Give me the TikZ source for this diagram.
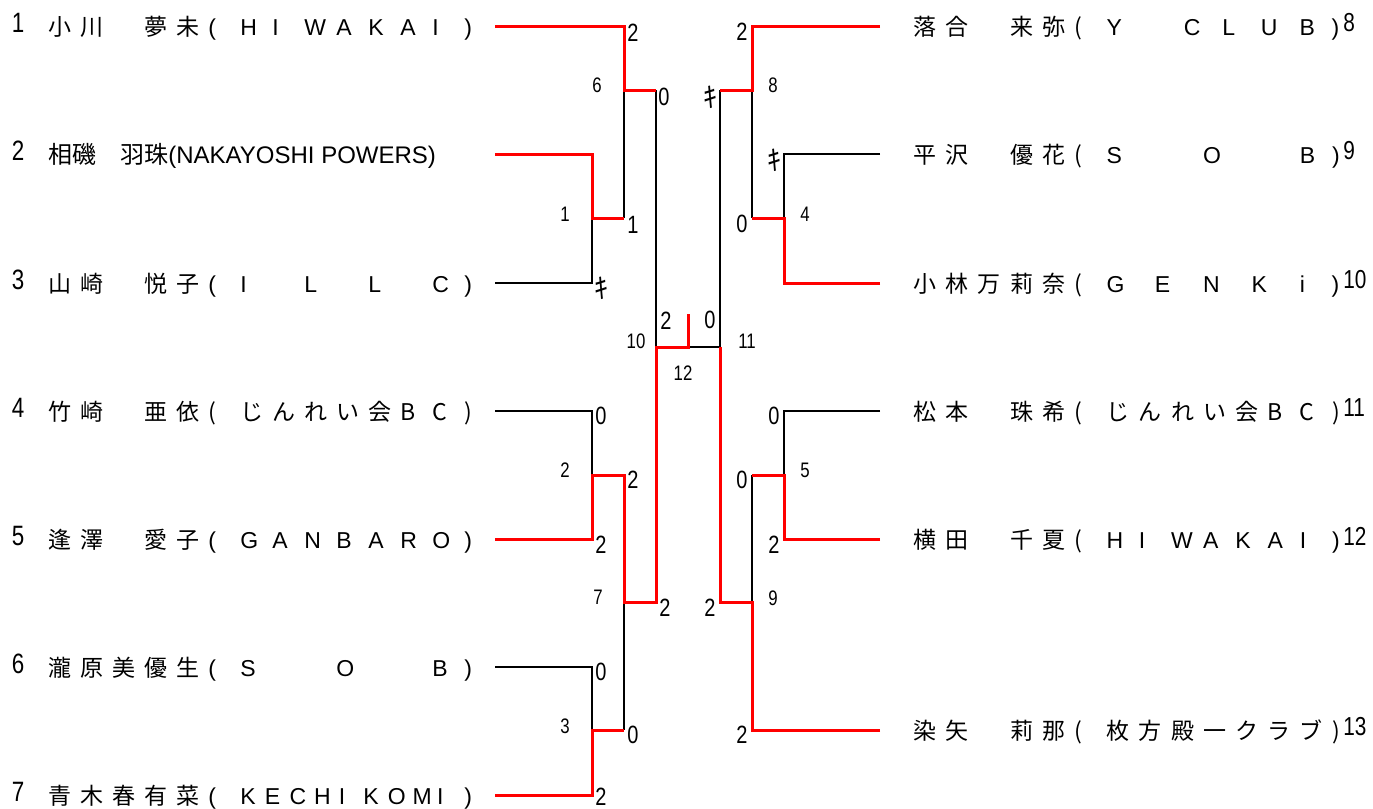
\documentclass[tikz,border=0pt]{standalone}
\usepackage{fontspec}
\setmainfont{Liberation Sans}
\newfontfamily\jp{Noto Sans CJK JP}
\newfontfamily\narrow[FakeStretch=0.8]{Liberation Sans}
\makeatletter
\newcommand\spstr[2]{\def\sp@pitch{#1}\sp@loop#2\relax}
\def\sp@loop#1{\ifx#1\relax\else\makebox[\sp@pitch][l]{#1}\expandafter\sp@loop\fi}
\makeatother
\tikzset{
  lose/.style={line width=0.6pt, black},
  win/.style={line width=1.5pt, red},
  pname/.style={inner sep=0pt, anchor=base west, font=\fontsize{11.5}{13}\selectfont},
  seedL/.style={inner sep=0pt, font={\narrow\fontsize{14}{16}\selectfont}},
  seedR/.style={inner sep=0pt, anchor=west, font={\narrow\fontsize{13}{15}\selectfont}},
  score/.style={inner sep=0pt, font={\narrow\fontsize{12.5}{14}\selectfont}},
  mlab/.style={inner sep=0pt, font={\narrow\fontsize{10.5}{12}\selectfont}},
  ki/.style={inner sep=0pt, font={\jp\fontsize{14}{16}\selectfont}},
}
\begin{document}
\begin{tikzpicture}[x=0.5pt, y=-0.5pt]
\useasboundingbox (0,0) rectangle (1373,809);
% ---------- left players ----------
\node[seedL] (k1) at (18,23) {1};
\node[seedL] (k2) at (18,151) {2};
\node[seedL] (k3) at (18,280) {3};
\node[seedL] (k4) at (18,408) {4};
\node[seedL] (k5) at (18,536) {5};
\node[seedL] (k6) at (18,664) {6};
\node[seedL] (k7) at (18,792) {7};
\node[pname] (n1) at (48,35) {{\jp\spstr{16pt}{小川~夢未}}\spstr{16pt}{(HIWAKAI)}};
\node[pname, font=\fontsize{12}{14}\selectfont] (n2) at (48,163) {{\jp 相磯　羽珠}(NAKAYOSHI POWERS)};
\node[pname] (n3) at (48,292) {{\jp\spstr{16pt}{山崎~悦子}}\spstr{16pt}{(I~L~L~C)}};
\node[pname] (n4) at (48,420) {{\jp\spstr{16pt}{竹崎~亜依(じんれい会BC)}}};
\node[pname] (n5) at (48,548) {{\jp\spstr{16pt}{逢澤~愛子}}\spstr{16pt}{(GANBARO)}};
\node[pname] (n6) at (48,676) {{\jp\spstr{16pt}{瀧原美優生}}\spstr{16pt}{(S~~O~~B)}};
\node[pname] (n7) at (48,804) {{\jp\spstr{16pt}{青木春有菜}}\spstr{16pt}{(}\spstr{12.3pt}{KECHIKOMI}\hspace{1.3pt})};
% ---------- right players ----------
\node[pname] (n8) at (913,35) {{\jp\spstr{16.1pt}{落合~来弥(}}\spstr{19.3pt}{Y~CLUB}\hspace{-3.3pt})};
\node[pname] (n9) at (913,163) {{\jp\spstr{16.1pt}{平沢~優花(}}\spstr{16.1pt}{S~~O~~B)}};
\node[pname] (n10) at (913,292) {{\jp\spstr{16.1pt}{小林万莉奈(}}\spstr{24.15pt}{GENKi}\hspace{-8.25pt})};
\node[pname] (n11) at (913,420) {{\jp\spstr{16.1pt}{松本~珠希(じんれい会BC)}}};
\node[pname] (n12) at (913,548) {{\jp\spstr{16.1pt}{横田~千夏(}}\spstr{16.1pt}{HIWAKAI)}};
\node[pname] (n13) at (913,739) {{\jp\spstr{16.1pt}{染矢~莉那(枚方殿一クラブ)}}};
\node[seedR] (k8) at (1343,23) {8};
\node[seedR] (k9) at (1343,151) {9};
\node[seedR] (k10) at (1343,280) {10};
\node[seedR] (k11) at (1343,408) {11};
\node[seedR] (k12) at (1343,536) {12};
\node[seedR] (k13) at (1343,727) {13};
% ---------- coordinates ----------
\coordinate (a1) at (495,26);  \coordinate (a2) at (495,154);
\coordinate (a3) at (495,283); \coordinate (a4) at (495,411);
\coordinate (a5) at (495,539); \coordinate (a6) at (495,667);
\coordinate (a7) at (495,795);
\coordinate (b8) at (880,26);  \coordinate (b9) at (880,154);
\coordinate (b10) at (880,283); \coordinate (b11) at (880,411);
\coordinate (b12) at (880,539); \coordinate (b13) at (880,730);
\coordinate (m1) at (592,218); \coordinate (q6b) at (624,218);
\coordinate (m6) at (624,90);  \coordinate (t6) at (656,90);
\coordinate (m2) at (592,475); \coordinate (q7a) at (624,475);
\coordinate (m3) at (592,730); \coordinate (q7b) at (624,730);
\coordinate (m7) at (624,602); \coordinate (t7) at (656,602);
\coordinate (m10) at (656,347); \coordinate (c12) at (688,347);
\coordinate (top12) at (688,314); \coordinate (m11) at (720,347);
\coordinate (m8) at (752,90);  \coordinate (t8) at (720,90);
\coordinate (m4) at (784,218); \coordinate (q8b) at (752,218);
\coordinate (m5) at (784,475); \coordinate (q9a) at (752,475);
\coordinate (m9) at (752,602); \coordinate (t9) at (720,602);
% ---------- losing lines ----------
\draw[lose] (a3) -| (m1);
\draw[lose] (q6b) -- (m6);
\draw[lose] (t6) -- (m10);
\draw[lose] (a4) -| (m2);
\draw[lose] (a6) -| (m3);
\draw[lose] (q7b) -- (m7);
\draw[lose] (c12) -- (m11);
\draw[lose] (t8) -- (m11);
\draw[lose] (m8) -- (q8b);
\draw[lose] (b9) -| (m4);
\draw[lose] (b11) -| (m5);
\draw[lose] (q9a) -- (m9);
% ---------- winning lines ----------
\draw[win] (a1) -| (m6) -- (t6);
\draw[win] (a2) -| (m1) -- (q6b);
\draw[win] (a5) -| (m2) -- (q7a) -- (m7) -- (t7) -- (m10) -- (c12) -- (top12);
\draw[win] (a7) -| (m3) -- (q7b);
\draw[win] (b8) -| (m8) -- (t8);
\draw[win] (b10) -| (m4) -- (q8b);
\draw[win] (b12) -| (m5) -- (q9a);
\draw[win] (b13) -| (m9) -- (t9) -- (m11);
% ---------- scores ----------
\node[score] (s1) at (633,33) {2};
\node[score] (s2) at (664,97) {0};
\node[score] (s3) at (633,225) {1};
\node[ki] (s4) at (601,288) {ｷ};
\node[score] (s5) at (742,32) {2};
\node[ki] (s6) at (710,97) {ｷ};
\node[ki] (s7) at (774,160) {ｷ};
\node[score] (s8) at (742,224) {0};
\node[score] (s9) at (666,321) {2};
\node[score] (s10) at (710,320) {0};
\node[score] (s11) at (601,416) {0};
\node[score] (s12) at (633,480) {2};
\node[score] (s13) at (601,545) {2};
\node[score] (s14) at (665,608) {2};
\node[score] (s15) at (601,672) {0};
\node[score] (s16) at (633,735) {0};
\node[score] (s17) at (601,797) {2};
\node[score] (s18) at (774,416) {0};
\node[score] (s19) at (742,480) {0};
\node[score] (s20) at (774,545) {2};
\node[score] (s21) at (710,608) {2};
\node[score] (s22) at (742,735) {2};
% ---------- match numbers ----------
\node[mlab] (g6) at (597,85) {6};
\node[mlab] (g1) at (565,214) {1};
\node[mlab] (g10) at (636,341) {10};
\node[mlab] (g11) at (747,341) {11};
\node[mlab] (g12) at (683,373) {12};
\node[mlab] (g8) at (773,85) {8};
\node[mlab] (g4) at (805,214) {4};
\node[mlab] (g2) at (565,470) {2};
\node[mlab] (g7) at (598,597) {7};
\node[mlab] (g3) at (565,726) {3};
\node[mlab] (g5) at (805,470) {5};
\node[mlab] (g9) at (773,598) {9};
\end{tikzpicture}
\end{document}
